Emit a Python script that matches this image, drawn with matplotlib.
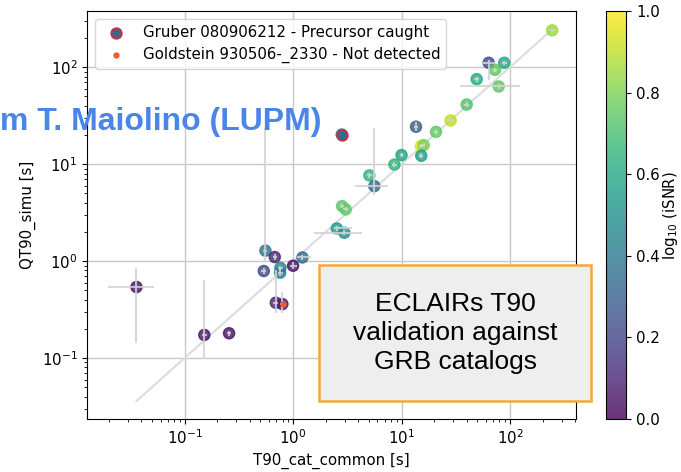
import numpy as np
import matplotlib
matplotlib.use("Agg")
import matplotlib.pyplot as plt
from matplotlib.patches import Rectangle

plt.rcParams["font.size"] = 10.8

# catalog T90 vs simulated QT90 (seconds), colour = log10(iSNR)
t90_cat = [0.036, 0.152, 0.257, 0.556, 0.678, 0.537, 0.764, 0.76, 1.0, 1.22,
           0.693, 0.797, 2.53, 2.81, 13.6, 20.8, 15.1, 16.0, 15.2, 10.0,
           8.6, 5.05, 5.61, 2.83, 3.06, 2.97, 245, 63.6, 88.5, 72.8,
           49.3, 78.7, 39.9, 28.4]
qt90_simu = [0.54, 0.173, 0.18, 1.28, 1.1, 0.79, 0.85, 0.76, 0.895, 1.09,
             0.372, 0.36, 2.17, 20.2, 24.3, 21.5, 15.3, 15.7, 12.2, 12.4,
             9.9, 7.65, 5.93, 3.69, 3.41, 1.96, 240, 111, 111, 93.8,
             75.2, 63.2, 41.2, 28.2]
log_snr = [0.05, 0.05, 0.05, 0.38, 0.1, 0.22, 0.45, 0.42, 0.05, 0.35,
           0.1, 0.08, 0.55, 0.35, 0.3, 0.75, 0.95, 0.8, 0.55, 0.58,
           0.65, 0.65, 0.35, 0.75, 0.75, 0.5, 0.85, 0.22, 0.6, 0.75,
           0.6, 0.75, 0.72, 0.9]

# error bounds (low, high) for x and y
x_low = [0.0198, 0.145, 0.245, 0.53, 0.65, 0.51, 0.73, 0.72, 0.93, 1.08,
         0.66, 0.76, 2.4, 2.75, 13.0, 20.0, 14.5, 15.4, 14.6, 9.6,
         8.2, 4.8, 3.73, 2.7, 2.9, 1.56, 235, 56, 84, 69,
         47, 34.5, 38, 27]
x_high = [0.052, 0.16, 0.27, 0.58, 0.71, 0.56, 0.8, 0.8, 1.08, 1.45,
          0.73, 0.83, 3.5, 2.9, 14.2, 21.6, 15.8, 16.6, 15.8, 10.4,
          9.0, 5.3, 7.45, 2.95, 3.2, 4.3, 255, 72, 93, 76,
          51.5, 123, 41.8, 29.8]
y_low = [0.143, 0.097, 0.17, 1.0, 1.03, 0.74, 0.8, 0.7, 0.82, 1.02,
         0.29, 0.29, 2.05, 19.0, 22.0, 20.5, 14.5, 15.0, 11.5, 11.8,
         9.4, 7.2, 4.8, 3.5, 3.25, 1.85, 230, 73, 105, 89,
         71, 60, 39, 27]
y_high = [0.85, 0.64, 0.19, 23.5, 1.17, 0.84, 0.9, 0.82, 0.97, 1.16,
          0.8, 0.48, 2.3, 21.5, 27.0, 22.5, 16.2, 16.4, 13.0, 13.0,
          10.4, 8.1, 23.5, 3.9, 3.6, 2.07, 250, 118, 117, 98.5,
          79.5, 66.5, 43.5, 29.5]

gruber = (2.81, 20.2, 0.35)
goldstein = (0.8, 0.36)

x = np.array(t90_cat)
y = np.array(qt90_simu)
xerr = [x - np.array(x_low), np.array(x_high) - x]
yerr = [y - np.array(y_low), np.array(y_high) - y]

fig = plt.figure(figsize=(6.81, 4.72), dpi=100)
ax = fig.add_axes([0.1278, 0.1123, 0.718, 0.864])
cax = fig.add_axes([0.890, 0.1123, 0.0294, 0.864])

ax.grid(True, which="major", color="#c8c8c8", lw=1, zorder=0)
ax.set_axisbelow(True)

ax.plot([0.036, 250], [0.036, 250], color="#dcdcdc", lw=1.5, zorder=1)

sc = ax.scatter(x, y, c=log_snr, cmap="viridis", vmin=0, vmax=1,
                s=64, alpha=0.8, zorder=2)
ax.errorbar(x, y, xerr=xerr, yerr=yerr, fmt="none", ecolor="#d3d3d3",
            elinewidth=1.5, alpha=0.85, zorder=3)

cmap = plt.get_cmap("viridis")
ax.scatter([gruber[0]], [gruber[1]], color=cmap(gruber[2]), edgecolors="#c8304a",
           linewidths=1.5, s=55, zorder=4,
           label="Gruber 080906212 - Precursor caught")
ax.scatter([goldstein[0]], [goldstein[1]], color="#f05a28", s=12, zorder=5,
           label="Goldstein 930506-_2330 - Not detected")

ax.set_xscale("log")
ax.set_yscale("log")
ax.set_xlim(0.0126, 406)
ax.set_ylim(0.0235, 378)
ax.set_xlabel("T90_cat_common [s]")
ax.set_ylabel("QT90_simu [s]")
ax.legend(loc="upper left")

cb = fig.colorbar(sc, cax=cax)
cb.set_ticks([0.0, 0.2, 0.4, 0.6, 0.8, 1.0])
cb.set_label("log$_{10}$ (iSNR)", labelpad=1)

# overlay annotations
fig.text(0.0, 0.742, "m T. Maiolino (LUPM)", color="#4a86e8", fontsize=23,
         fontweight="bold", family="Liberation Sans", ha="left", va="center")
box = Rectangle((319 / 681, 1 - 401 / 472), 272 / 681, 136 / 472,
                transform=fig.transFigure, facecolor="#eeeeee",
                edgecolor="#f6a63c", lw=1.8, zorder=10)
fig.patches.append(box)
fig.text(455 / 681, 1 - 333 / 472, "ECLAIRs T90\nvalidation against\nGRB catalogs",
         fontsize=19, family="Liberation Sans", ha="center", va="center",
         linespacing=1.25, zorder=11)

fig.savefig("out.png", dpi=100)
